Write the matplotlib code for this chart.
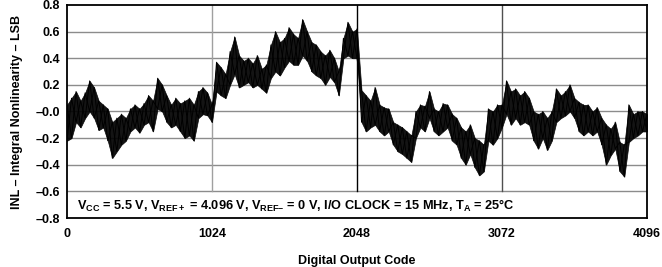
import matplotlib
matplotlib.use('Agg')
import matplotlib.pyplot as plt
import numpy as np

plt.rcParams['font.family'] = ['Liberation Sans', 'DejaVu Sans']
plt.rcParams['mathtext.fontset'] = 'custom'
plt.rcParams['mathtext.rm'] = 'Liberation Sans:bold'
plt.rcParams['mathtext.bf'] = 'Liberation Sans:bold'
plt.rcParams['mathtext.default'] = 'rm'

# INL envelope, one pair every 32 codes
codes = np.arange(0, 4097, 32)
inl_hi = [0.05, 0.10, 0.15, 0.08, 0.14, 0.23, 0.18, 0.08, 0.05, 0.02,
          -0.08, -0.05, -0.02, -0.05, 0.02, 0.05, 0.02, 0.06, 0.12, 0.08,
          0.25, 0.20, 0.12, 0.05, 0.10, 0.06, 0.08, 0.10, 0.05, 0.15,
          0.18, 0.14, 0.05, 0.37, 0.33, 0.28, 0.45, 0.56, 0.42, 0.38,
          0.40, 0.36, 0.42, 0.32, 0.35, 0.50, 0.60, 0.52, 0.55, 0.63,
          0.58, 0.55, 0.69, 0.60, 0.52, 0.50, 0.45, 0.42, 0.46, 0.40,
          0.30, 0.55, 0.67, 0.60, 0.62, 0.16, 0.12, 0.08, 0.18, 0.05,
          0.03, 0.02, -0.08, -0.10, -0.12, -0.15, -0.18, 0.00, 0.05, 0.04,
          0.15, 0.02, 0.00, 0.06, 0.05, -0.02, -0.05, -0.12, -0.15, -0.10,
          -0.20, -0.22, -0.25, 0.02, 0.00, 0.05, 0.05, 0.23, 0.15, 0.17,
          0.12, 0.15, 0.10, 0.00, -0.02, 0.00, -0.05, 0.00, 0.17, 0.12,
          0.15, 0.20, 0.10, 0.07, 0.05, 0.05, 0.00, 0.03, -0.05, -0.10,
          -0.13, -0.08, -0.23, -0.25, 0.05, -0.02, 0.00, 0.00, -0.02]
inl_lo = [-0.22, -0.20, -0.08, -0.12, -0.05, 0.00, -0.05, -0.14, -0.12, -0.22,
          -0.35, -0.30, -0.25, -0.22, -0.15, -0.12, -0.16, -0.10, -0.08, -0.15,
          0.02, 0.00, -0.08, -0.12, -0.10, -0.15, -0.20, -0.18, -0.22, -0.05,
          -0.02, -0.03, -0.08, 0.15, 0.12, 0.10, 0.20, 0.28, 0.18, 0.20,
          0.22, 0.18, 0.20, 0.17, 0.14, 0.25, 0.30, 0.27, 0.33, 0.38,
          0.35, 0.35, 0.42, 0.38, 0.30, 0.27, 0.25, 0.20, 0.26, 0.22,
          0.12, 0.40, 0.42, 0.40, 0.40, -0.08, -0.15, -0.12, -0.10, -0.15,
          -0.18, -0.15, -0.25, -0.30, -0.32, -0.35, -0.38, -0.20, -0.12, -0.15,
          -0.05, -0.15, -0.18, -0.15, -0.12, -0.22, -0.25, -0.35, -0.40, -0.32,
          -0.42, -0.48, -0.45, -0.22, -0.25, -0.20, -0.12, -0.02, -0.10, -0.05,
          -0.10, -0.08, -0.10, -0.22, -0.28, -0.20, -0.29, -0.22, -0.08, -0.05,
          -0.03, 0.00, -0.05, -0.15, -0.18, -0.15, -0.18, -0.15, -0.25, -0.40,
          -0.33, -0.28, -0.45, -0.49, -0.23, -0.20, -0.18, -0.15, -0.15]

y_ticks = [0.8, 0.6, 0.4, 0.2, 0.0, -0.2, -0.4, -0.6, -0.8]
y_labels = ['0.8', '0.6', '0.4', '0.2', '\u20130.0', '\u20130.2',
            '\u20130.4', '\u20130.6', '\u20130.8']
x_ticks = [0, 1024, 2048, 3072, 4096]

fig = plt.figure(figsize=(6.62, 2.67), dpi=100)
ax = fig.add_axes([0.1012, 0.1835, 0.8761, 0.7978])

# grid
for yv in [0.6, 0.4, 0.2, 0.0, -0.2, -0.4, -0.6]:
    ax.axhline(yv, color='#8c8c8c', lw=1.0, zorder=1)
ax.axvline(1024, ymin=0.125, color='#a0a0a0', lw=1.0, zorder=1)
ax.axvline(2048, ymin=0.125, color='black', lw=1.0, zorder=1)
ax.axvline(3072, ymin=0.125, color='#505050', lw=1.0, zorder=1)

# noisy trace: filled envelope plus two crossing zigzags
hi = np.array(inl_hi)
lo = np.array(inl_lo)
odd = np.arange(len(codes)) % 2 == 1
zig1 = np.where(odd, lo, hi)
zig2 = np.where(odd, hi, lo)
ax.fill_between(codes, lo, hi, color='black', lw=0.5, alpha=0.92, zorder=2)
ax.plot(codes, zig1, color='black', lw=0.7, zorder=3)
ax.plot(codes, zig2, color='black', lw=0.7, zorder=3)

ax.set_xlim(0, 4096)
ax.set_ylim(-0.8, 0.8)
ax.set_xticks(x_ticks)
ax.set_xticklabels([str(v) for v in x_ticks], fontweight='bold', fontsize=9)
ax.set_yticks(y_ticks)
ax.set_yticklabels(y_labels, fontweight='bold', fontsize=9)
ax.tick_params(axis='x', length=0, pad=7)
ax.tick_params(axis='y', length=0, pad=5)
for s in ax.spines.values():
    s.set_linewidth(1.3)
    s.set_color('black')

ax.set_xlabel('Digital Output Code', fontweight='bold', fontsize=9, labelpad=11)
ax.set_ylabel('INL \u2013 Integral Nonlinearity \u2013 LSB', fontweight='bold',
              fontsize=9, labelpad=9)

cond = ('V$_{CC}$ = 5.5 V, V$_{REF+}$ = 4.096 V, V$_{REF\u2013}$ = 0 V, '
        'I/O CLOCK = 15 MHz, T$_{A}$ = 25\u00b0C')
ax.text(70, -0.71, cond, fontsize=9.2, fontweight='bold', va='center',
        ha='left', zorder=4)

fig.savefig('out.png', dpi=100)
